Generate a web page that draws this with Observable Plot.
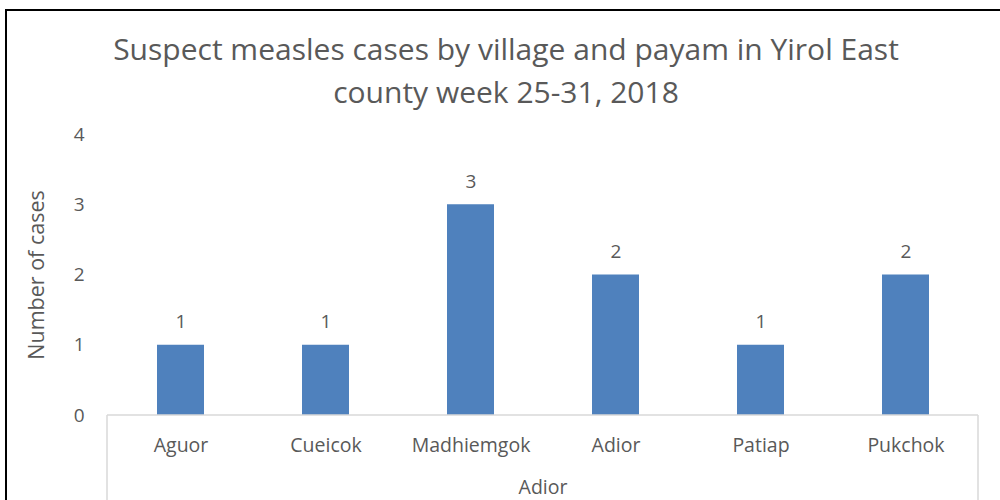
<!DOCTYPE html>
<html>
<head>
<meta charset="utf-8">
<script src="https://cdn.jsdelivr.net/npm/d3@7"></script>
<script src="https://cdn.jsdelivr.net/npm/@observablehq/plot@0.6"></script>
<style>
  html, body { margin: 0; padding: 0; background: #fff; overflow: hidden; }
  #wrap { position: relative; width: 1000px; height: 500px; }
  #border { position: absolute; left: 5px; top: 9px; width: 1100px; height: 600px; border: 2px solid #000; box-sizing: border-box; pointer-events: none; }
  #chart { position: absolute; left: 0; top: 0; }
</style>
</head>
<body>
<div id="wrap"><div id="chart"></div><div id="border"></div></div>
<script>
const villages = ["Aguor", "Cueicok", "Madhiemgok", "Adior", "Patiap", "Pukchok"];
const cases = [1, 1, 3, 2, 1, 2];
const payam = "Adior";
const yTicks = [0, 1, 2, 3, 4];
const titleLines = ["Suspect measles cases by village and payam in Yirol East", "county week 25-31, 2018"];
const yLabel = "Number of cases";

const data = villages.map((v, i) => ({village: v, cases: cases[i]}));
const font = "'Open Sans', sans-serif";
const textColor = "#595959";

const axisBox = (index, scales, values, dims) => {
  const g = d3.create("svg:g").attr("stroke", "#d9d9d9").attr("stroke-width", 1.5);
  const x0 = dims.marginLeft, x1 = dims.width - dims.marginRight;
  const yb = dims.height - dims.marginBottom;
  g.append("line").attr("x1", x0).attr("x2", x1).attr("y1", yb).attr("y2", yb);
  g.append("line").attr("x1", x0).attr("x2", x0).attr("y1", yb).attr("y2", dims.height);
  g.append("line").attr("x1", x1).attr("x2", x1).attr("y1", yb).attr("y2", dims.height);
  return g.node();
};

const chart = Plot.plot({
  width: 1000,
  height: 500,
  marginLeft: 107,
  marginRight: 22,
  marginTop: 134,
  marginBottom: 85,
  style: {fontFamily: font, background: "transparent", overflow: "visible"},
  x: {domain: villages, paddingInner: 0.676, paddingOuter: 0.338, axis: null},
  y: {domain: [0, 4], axis: null},
  marks: [
    Plot.barY(data, {x: "village", y: "cases", fill: "#4F81BD"}),
    axisBox,
    Plot.text(data, {x: "village", y: "cases", text: d => String(d.cases), dy: -23, fontSize: 19, fill: textColor, lineAnchor: "middle"}),
    Plot.text(yTicks, {y: d => d, text: d => String(d), frameAnchor: "left", dx: -23, textAnchor: "end", fontSize: 19, fill: textColor, lineAnchor: "middle"}),
    Plot.text(villages, {x: d => d, text: d => d, frameAnchor: "bottom", dy: 30, fontSize: 19.5, fill: textColor, lineAnchor: "middle"}),
    Plot.text([payam], {text: d => d, frameAnchor: "bottom", dy: 72, fontSize: 19.5, fill: textColor, lineAnchor: "middle"}),
    Plot.text([yLabel], {text: d => d, frameAnchor: "left", dx: -70, rotate: -90, textAnchor: "middle", fontSize: 21.5, fill: textColor, lineAnchor: "middle"}),
    Plot.text([titleLines[0]], {text: d => d, frameAnchor: "top", dx: -37, dy: -84, fontSize: 30, fill: textColor, lineAnchor: "middle"}),
    Plot.text([titleLines[1]], {text: d => d, frameAnchor: "top", dx: -37, dy: -41, fontSize: 30, fill: textColor, lineAnchor: "middle"})
  ]
});
document.getElementById("chart").appendChild(chart);
</script>
</body>
</html>
